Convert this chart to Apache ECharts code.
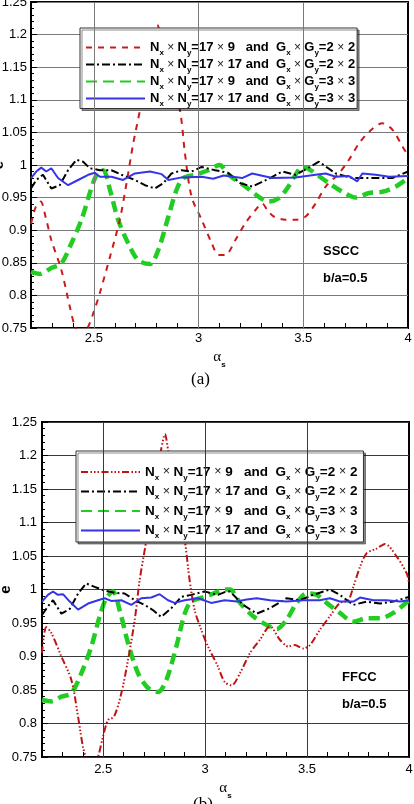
<!DOCTYPE html>
<html>
<head>
<meta charset="utf-8">
<script src="https://cdn.jsdelivr.net/npm/echarts@6/dist/echarts.min.js"></script>
<style>
html, body { margin: 0; padding: 0; background: #fff; overflow: hidden; }
#chart-a { position: absolute; left: 0; top: 0; width: 414px; height: 400px; }
#chart-b { position: absolute; left: 0; top: 400px; width: 414px; height: 404px; }
</style>
</head>
<body>
<div id="chart-a"></div>
<div id="chart-b"></div>
<script>
// axis grid lines / labels
var xMajor = [2.5, 3, 3.5];

// legend numbers: [Nx x Ny, Gx x Gy]
var meshes = ['17 × 9   ', '17 × 17 ', '17 × 9   ', '17 × 17 '];
var gauss = ['2 × 2', '2 × 2', '3 × 3', '3 × 3'];

// (a) SSCC
var sscc9g2 = [[2.2,0.91],[2.222,0.935],[2.246,0.944],[2.27,0.92],[2.297,0.885],[2.345,0.839],[2.385,0.783],[2.41,0.752],[2.44,0.735],[2.473,0.752],[2.5,0.775],[2.529,0.804],[2.577,0.859],[2.624,0.916],[2.656,0.972],[2.688,1.033],[2.72,1.084],[2.76,1.16],[2.79,1.208],[2.803,1.215],[2.82,1.195],[2.86,1.14],[2.911,1.084],[2.935,1.018],[2.967,0.951],[3.015,0.916],[3.063,0.88],[3.095,0.862],[3.128,0.862],[3.176,0.885],[3.224,0.911],[3.272,0.931],[3.304,0.941],[3.33,0.93],[3.359,0.921],[3.415,0.916],[3.463,0.916],[3.511,0.921],[3.559,0.941],[3.607,0.967],[3.67,0.987],[3.718,1.008],[3.766,1.033],[3.814,1.051],[3.878,1.064],[3.926,1.054],[3.974,1.028],[4.0,1.015]];
var sscc17g2 = [[2.2,0.964],[2.225,0.977],[2.257,0.985],[2.297,0.964],[2.337,0.969],[2.377,0.992],[2.417,1.008],[2.449,1.005],[2.481,0.995],[2.529,0.992],[2.584,0.992],[2.632,0.985],[2.696,0.977],[2.744,0.969],[2.792,0.964],[2.832,0.972],[2.871,0.987],[2.919,0.992],[2.967,0.99],[3.015,0.997],[3.079,0.992],[3.14,0.988],[3.2,0.972],[3.256,0.967],[3.33,0.978],[3.399,0.99],[3.463,0.985],[3.52,0.995],[3.575,1.005],[3.655,0.987],[3.734,0.98],[3.846,0.98],[3.926,0.98],[4.0,0.99]];
var sscc9g3 = [[2.2,0.836],[2.242,0.833],[2.297,0.842],[2.345,0.849],[2.393,0.88],[2.441,0.916],[2.481,0.957],[2.513,0.985],[2.545,0.992],[2.577,0.962],[2.616,0.916],[2.664,0.88],[2.712,0.854],[2.768,0.848],[2.808,0.87],[2.856,0.921],[2.895,0.962],[2.927,0.98],[2.983,0.985],[3.047,0.992],[3.1,1.0],[3.144,0.985],[3.224,0.967],[3.288,0.951],[3.335,0.944],[3.383,0.949],[3.423,0.964],[3.463,0.985],[3.495,0.997],[3.53,0.993],[3.623,0.972],[3.687,0.959],[3.75,0.95],[3.814,0.957],[3.878,0.959],[3.942,0.967],[4.0,0.98]];
var sscc17g3 = [[2.2,0.98],[2.225,0.99],[2.249,0.996],[2.273,0.99],[2.297,0.995],[2.329,0.98],[2.377,0.969],[2.425,0.977],[2.473,0.985],[2.505,0.988],[2.529,0.982],[2.584,0.982],[2.64,0.977],[2.696,0.987],[2.768,0.99],[2.824,0.986],[2.856,0.977],[2.92,0.981],[3.015,0.982],[3.07,0.979],[3.12,0.984],[3.208,0.98],[3.256,0.987],[3.352,0.98],[3.463,0.981],[3.559,0.985],[3.607,0.987],[3.655,0.982],[3.718,0.983],[3.758,0.975],[3.782,0.987],[3.846,0.985],[3.91,0.982],[4.0,0.983]];

// (b) FFCC
var ffcc9g2 = [[2.2,0.905],[2.221,0.944],[2.246,0.935],[2.295,0.9],[2.344,0.865],[2.377,0.81],[2.401,0.765],[2.42,0.745],[2.445,0.725],[2.475,0.75],[2.499,0.78],[2.524,0.805],[2.553,0.81],[2.589,0.845],[2.622,0.895],[2.655,0.955],[2.679,1.014],[2.712,1.074],[2.75,1.15],[2.785,1.21],[2.803,1.232],[2.82,1.205],[2.86,1.14],[2.9,1.074],[2.924,1.014],[2.949,0.969],[2.981,0.94],[3.014,0.915],[3.063,0.885],[3.096,0.862],[3.13,0.857],[3.171,0.875],[3.22,0.905],[3.269,0.925],[3.318,0.945],[3.367,0.925],[3.408,0.915],[3.44,0.917],[3.481,0.912],[3.514,0.917],[3.563,0.94],[3.612,0.96],[3.661,0.98],[3.702,0.984],[3.727,1.004],[3.76,1.034],[3.792,1.054],[3.841,1.061],[3.882,1.068],[3.94,1.049],[3.989,1.024],[4.0,1.01]];
var ffcc17g2 = [[2.2,0.962],[2.23,0.975],[2.254,0.984],[2.295,0.964],[2.336,0.971],[2.377,0.994],[2.417,1.009],[2.458,1.004],[2.5,0.999],[2.556,0.995],[2.605,0.994],[2.655,0.984],[2.704,0.977],[2.745,0.969],[2.785,0.959],[2.834,0.972],[2.883,0.989],[2.932,0.992],[2.998,0.997],[3.063,0.992],[3.104,0.997],[3.122,0.997],[3.187,0.977],[3.253,0.964],[3.318,0.972],[3.4,0.987],[3.465,0.984],[3.53,0.992],[3.612,1.0],[3.661,0.992],[3.727,0.977],[3.792,0.982],[3.858,0.979],[3.923,0.982],[4.0,0.989]];
var ffcc9g3 = [[2.2,0.835],[2.246,0.833],[2.295,0.84],[2.344,0.845],[2.393,0.875],[2.442,0.915],[2.483,0.96],[2.515,0.987],[2.548,0.997],[2.581,0.969],[2.622,0.92],[2.671,0.875],[2.72,0.853],[2.769,0.847],[2.81,0.865],[2.859,0.915],[2.9,0.964],[2.932,0.982],[2.998,0.989],[3.04,0.994],[3.1,1.0],[3.122,1.0],[3.171,0.98],[3.236,0.96],[3.302,0.947],[3.351,0.941],[3.4,0.955],[3.449,0.98],[3.498,0.994],[3.547,0.992],[3.596,0.98],[3.661,0.965],[3.727,0.952],[3.792,0.957],[3.858,0.957],[3.923,0.965],[4.0,0.984]];
var ffcc17g3 = [[2.2,0.982],[2.229,0.992],[2.254,0.997],[2.278,0.992],[2.303,0.993],[2.336,0.982],[2.377,0.97],[2.426,0.979],[2.475,0.984],[2.507,0.987],[2.54,0.983],[2.589,0.984],[2.638,0.977],[2.687,0.987],[2.736,0.988],[2.777,0.993],[2.818,0.984],[2.85,0.98],[2.9,0.984],[2.965,0.987],[3.03,0.98],[3.096,0.984],[3.155,0.982],[3.204,0.985],[3.253,0.987],[3.318,0.984],[3.4,0.982],[3.481,0.984],[3.563,0.984],[3.612,0.987],[3.661,0.982],[3.727,0.982],[3.76,0.988],[3.825,0.984],[3.89,0.984],[3.956,0.982],[4.0,0.984]];

var FONT = 'Liberation Sans, Arial, sans-serif';

function richPart(str) {
    // bold digits, normal-weight multiplication sign
    return str.split('×').map(function (p) {
        return p ? '{b|' + p + '}' : '';
    }).join('{m|×}');
}

function legendText(i) {
    return '{b|N}{s|x}{m| × }{b|N}{s|y}' + richPart('=' + meshes[i]) +
        '{b|and  G}{s|x}{m| × }{b|G}{s|y}' + richPart('=' + gauss[i]);
}

function buildOption(cfg) {
    var names = ['r', 'k', 'g', 'bl'];
    var series = cfg.data.map(function (d, i) {
        return {
            name: names[i],
            type: 'line',
            data: d,
            symbol: 'none',
            smooth: cfg.styles[i].smooth,
            z: cfg.styles[i].z,
            lineStyle: {
                color: cfg.styles[i].color,
                width: cfg.styles[i].width,
                type: cfg.styles[i].type,
                cap: 'butt'
            },
            itemStyle: { color: cfg.styles[i].color }
        };
    });
    // vertical grid lines
    series.push({
        name: 'vgrid',
        type: 'line',
        data: [],
        z: 1,
        silent: true,
        markLine: {
            silent: true,
            symbol: 'none',
            label: { show: false },
            animation: false,
            lineStyle: { color: cfg.gridColor, width: 1, type: 'solid' },
            data: xMajor.map(function (v) { return { xAxis: v }; })
        }
    });
    var lh = cfg.legend.lineHeight;
    return {
        animation: false,
        backgroundColor: '#fff',
        grid: {
            left: cfg.grid[0], top: cfg.grid[1], right: cfg.grid[2], bottom: cfg.grid[3],
            containLabel: false, outerBoundsMode: 'none',
            show: true, borderColor: '#000', borderWidth: 2, backgroundColor: 'transparent'
        },
        legend: {
            orient: 'vertical',
            left: cfg.legend.left,
            top: cfg.legend.top,
            padding: cfg.legend.padding,
            itemGap: cfg.legend.gap,
            itemWidth: 59,
            itemHeight: 12,
            backgroundColor: '#fff',
            borderColor: '#333',
            borderWidth: 1,
            borderRadius: 0,
            shadowColor: 'rgba(0,0,0,0.45)',
            shadowBlur: 0,
            shadowOffsetX: 2,
            shadowOffsetY: 2,
            selectedMode: false,
            itemStyle: { opacity: 0 },
            data: names,
            formatter: function (name) {
                return legendText(names.indexOf(name));
            },
            textStyle: {
                rich: {
                    b: { fontFamily: FONT, fontWeight: 'bold', fontSize: cfg.legend.font, color: '#000', lineHeight: lh },
                    m: { fontFamily: FONT, fontSize: cfg.legend.font - 1, color: '#222', lineHeight: lh },
                    s: { fontFamily: FONT, fontWeight: 'bold', fontSize: 8, color: '#000', verticalAlign: 'bottom', lineHeight: lh, padding: [0, 0, -2, 0] }
                }
            }
        },
        xAxis: {
            type: 'value',
            min: 2.2,
            max: 4,
            interval: 0.1,
            name: '{a|α}{s|s}',
            nameLocation: 'middle',
            nameGap: cfg.xNameGap,
            nameTextStyle: {
                rich: {
                    a: { fontFamily: 'Liberation Serif, Times New Roman, serif', fontSize: 15, color: '#000' },
                    s: { fontFamily: FONT, fontWeight: 'bold', fontSize: 8, color: '#000', verticalAlign: 'bottom', padding: [0, 0, -4, 0] }
                }
            },
            axisLine: { show: false },
            axisTick: { show: true, inside: true, length: 5, lineStyle: { color: '#000', width: 1 } },
            axisLabel: {
                margin: cfg.xLabelMargin, fontFamily: FONT, fontSize: 13, color: '#000',
                showMinLabel: false,
                formatter: function (v) {
                    var t = Math.round(v * 10) / 10;
                    return Math.abs(t * 2 - Math.round(t * 2)) < 1e-6 ? String(t) : '';
                }
            },
            splitLine: { show: false }
        },
        yAxis: {
            type: 'value',
            min: 0.75,
            max: 1.25,
            interval: 0.05,
            name: 'e',
            nameLocation: 'middle',
            nameRotate: 90,
            nameGap: cfg.yNameGap,
            nameMoveOverlap: false,
            nameTextStyle: { fontFamily: FONT, fontWeight: 'bold', fontSize: 15, color: '#000' },
            axisLine: { show: false },
            axisTick: { show: true, inside: true, length: 6, lineStyle: { color: '#000' } },
            minorTick: { show: true, splitNumber: 5, length: 3, lineStyle: { color: '#000' } },
            axisLabel: { margin: cfg.yLabelMargin, fontFamily: FONT, fontSize: 13, color: '#000' },
            splitLine: { show: true, lineStyle: { color: cfg.gridColor, width: 1 } }
        },
        graphic: [{
            type: 'text', left: cfg.note[0], top: cfg.note[1],
            style: { text: cfg.tag, font: 'bold 13px ' + FONT, fill: '#000' }
        }, {
            type: 'text', left: cfg.note[0], top: cfg.note[1] + 27,
            style: { text: 'b/a=0.5', font: 'bold 13px ' + FONT, fill: '#000' }
        }, {
            type: 'text', left: cfg.caption[0], top: cfg.caption[1],
            style: { text: cfg.captionText, font: '17px Liberation Serif, Times New Roman, serif', fill: '#000' }
        }],
        series: series
    };
}

var chartA = echarts.init(document.getElementById('chart-a'));
chartA.setOption(buildOption({
    grid: [31, 2, 6, 72],
    legend: { left: 80, top: 28, padding: [13, 2, 1, 5], gap: 1.5, font: 13, lineHeight: 14 },
    gridColor: '#7a7a7a',
    xLabelMargin: 4, yLabelMargin: 4, xNameGap: 20, yNameGap: 25,
    note: [323, 245], tag: 'SSCC',
    caption: [191, 371], captionText: '(a)',
    data: [sscc9g2, sscc17g2, sscc9g3, sscc17g3],
    styles: [
        { color: '#cc1a1a', width: 2, type: [6, 6], smooth: 0.3, z: 3 },
        { color: '#000', width: 2, type: [8, 3, 2, 3], smooth: false, z: 4 },
        { color: '#22cc22', width: 4.5, type: [11, 6], smooth: 0.3, z: 2 },
        { color: '#3535e8', width: 2, type: 'solid', smooth: false, z: 5 }
    ]
}));

var chartB = echarts.init(document.getElementById('chart-b'));
chartB.setOption(buildOption({
    grid: [42, 22, 5, 47],
    legend: { left: 76, top: 51, padding: [14, 6, 2, 4], gap: 3, font: 13.5, lineHeight: 15 },
    gridColor: '#3a3a3a',
    xLabelMargin: 6, yLabelMargin: 5, xNameGap: 18, yNameGap: 29,
    note: [342, 271], tag: 'FFCC',
    caption: [193, 396], captionText: '(b)',
    data: [ffcc9g2, ffcc17g2, ffcc9g3, ffcc17g3],
    styles: [
        { color: '#c01414', width: 2, type: [7, 2.5, 1.5, 2, 1.5, 2, 1.5, 2.5], smooth: 0.3, z: 3 },
        { color: '#000', width: 2, type: [8, 3, 2, 3], smooth: false, z: 4 },
        { color: '#22cc22', width: 4.5, type: [11, 6], smooth: 0.3, z: 2 },
        { color: '#3535e8', width: 2, type: 'solid', smooth: false, z: 5 }
    ]
}));
</script>
</body>
</html>
